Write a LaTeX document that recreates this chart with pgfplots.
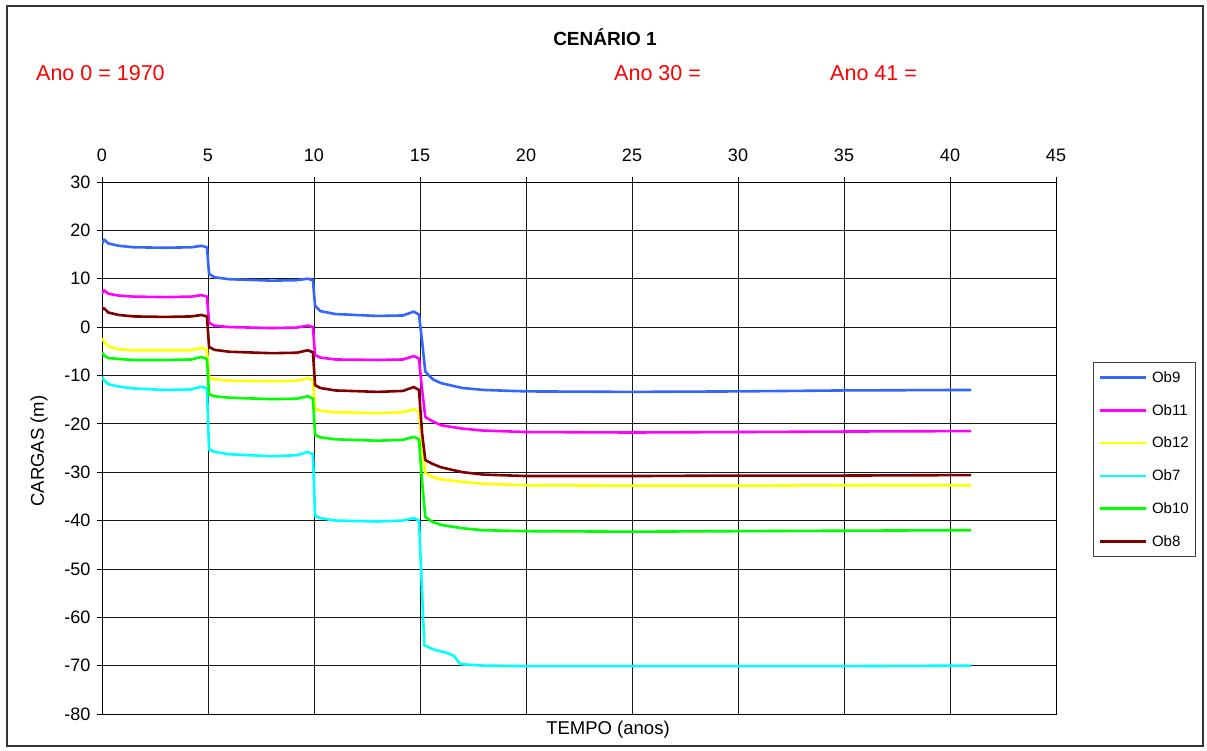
\documentclass[border=0pt]{standalone}
\usepackage{pgfplots}
\pgfplotsset{compat=1.18}
\usepackage{fontspec}
\setmainfont{Liberation Sans}
\definecolor{cOb9}{HTML}{3366FF}
\definecolor{cOb11}{HTML}{FF00FF}
\definecolor{cOb12}{HTML}{FFFF00}
\definecolor{cOb7}{HTML}{00FFFF}
\definecolor{cOb10}{HTML}{00FF00}
\definecolor{cOb8}{HTML}{800000}
\begin{document}
\begin{tikzpicture}
\useasboundingbox (-102pt,-37pt) rectangle (1105pt,714pt);
\begin{axis}[
  scale only axis,
  width=954pt, height=532pt,
  xmin=0, xmax=45, ymin=-80, ymax=30,
  xtick={0,5,...,45}, ytick={-80,-70,...,30},
  xtick pos=upper, xticklabel pos=upper,
  ytick pos=left,
  tick align=outside, major tick length=5pt,
  grid=major,
  major grid style={black!90, line width=0.8pt},
  axis line style={black, line width=0.9pt},
  every tick/.style={black, line width=0.8pt},
  tick label style={font=\fontsize{18}{20}\selectfont},
  /pgf/number format/assume math mode=true,
  xticklabel style={yshift=12pt},
  yticklabel style={xshift=-3pt},
  legend style={at={(1.0388,0.6617)}, anchor=north west,
    font=\fontsize{15}{17}\selectfont, draw=black!75, line width=0.8pt,
    row sep=16.4pt, column sep=3pt, inner xsep=5pt, inner ysep=7pt},
  legend cell align=left,
  legend image code/.code={\draw[#1] (0pt,0pt) -- (46pt,0pt);},
  every axis plot/.append style={line width=2.6pt, line join=round},
]
\addplot[cOb9] coordinates {(0,17.2) (0.1,18.1) (0.3,17.3) (0.8,16.8) (1.5,16.5) (3,16.4) (4.2,16.5) (4.7,16.8) (4.95,16.5) (5.05,11.0) (5.3,10.3) (6,9.9) (8,9.6) (9.2,9.7) (9.7,10.0) (9.95,9.7) (10.05,4.4) (10.3,3.3) (11,2.7) (13,2.3) (14.2,2.4) (14.7,3.2) (14.95,2.6) (15.1,-3) (15.25,-9.2) (15.6,-10.8) (16,-11.6) (17,-12.6) (18,-13.0) (20,-13.3) (25,-13.4) (30,-13.3) (35,-13.1) (41,-13.0)};
\addlegendentry{Ob9}
\addplot[cOb11] coordinates {(0,7.0) (0.1,7.6) (0.3,6.9) (0.8,6.5) (1.5,6.3) (3,6.2) (4.2,6.3) (4.7,6.6) (4.95,6.3) (5.05,0.9) (5.3,0.3) (6,0.0) (8,-0.2) (9.2,-0.1) (9.7,0.3) (9.95,0.0) (10.05,-5.8) (10.3,-6.3) (11,-6.7) (13,-6.8) (14.2,-6.7) (14.7,-6.0) (14.95,-6.5) (15.1,-13) (15.25,-18.6) (15.6,-19.5) (16,-20.3) (17,-21.0) (18,-21.4) (20,-21.7) (25,-21.8) (30,-21.7) (35,-21.6) (41,-21.5)};
\addlegendentry{Ob11}
\addplot[cOb12] coordinates {(0,-2.3) (0.1,-3.0) (0.3,-4.0) (0.8,-4.6) (1.5,-4.8) (3,-4.8) (4.2,-4.8) (4.7,-4.3) (4.95,-4.6) (5.05,-10.4) (5.3,-10.8) (6,-11.1) (8,-11.2) (9.2,-11.1) (9.7,-10.6) (9.95,-11.0) (10.05,-16.8) (10.3,-17.3) (11,-17.6) (13,-17.8) (14.2,-17.6) (14.7,-17.0) (14.95,-17.5) (15.1,-25) (15.25,-30.2) (15.6,-31.0) (16,-31.5) (17,-32.0) (18,-32.4) (20,-32.7) (25,-32.8) (30,-32.8) (35,-32.7) (41,-32.7)};
\addlegendentry{Ob12}
\addplot[cOb7] coordinates {(0,-10.3) (0.1,-11.0) (0.3,-11.8) (0.8,-12.3) (1.5,-12.7) (3,-13.0) (4.2,-12.9) (4.7,-12.3) (4.95,-12.7) (5.05,-25.3) (5.3,-25.8) (6,-26.3) (8,-26.7) (9.2,-26.5) (9.7,-25.8) (9.95,-26.3) (10.05,-39.0) (10.3,-39.5) (11,-40.0) (13,-40.2) (14.2,-40.0) (14.7,-39.5) (14.95,-40.0) (15.1,-55) (15.2,-65.8) (15.6,-66.6) (16.3,-67.4) (16.6,-68.0) (16.9,-69.7) (18,-70.0) (20,-70.1) (25,-70.1) (30,-70.1) (35,-70.1) (41,-70.0)};
\addlegendentry{Ob7}
\addplot[cOb10] coordinates {(0,-5.2) (0.1,-5.9) (0.3,-6.4) (0.8,-6.6) (1.5,-6.8) (3,-6.8) (4.2,-6.7) (4.7,-6.2) (4.95,-6.6) (5.05,-13.9) (5.3,-14.3) (6,-14.6) (8,-14.9) (9.2,-14.8) (9.7,-14.3) (9.95,-14.8) (10.05,-22.3) (10.3,-22.8) (11,-23.2) (13,-23.5) (14.2,-23.3) (14.7,-22.7) (14.95,-23.2) (15.1,-32) (15.25,-39.3) (15.6,-40.3) (16,-40.9) (17,-41.6) (18,-42.0) (20,-42.2) (25,-42.3) (30,-42.2) (35,-42.1) (41,-42.0)};
\addlegendentry{Ob10}
\addplot[cOb8] coordinates {(0,3.6) (0.1,3.9) (0.3,3.0) (0.8,2.5) (1.5,2.2) (3,2.1) (4.2,2.2) (4.7,2.5) (4.95,2.2) (5.05,-4.1) (5.3,-4.7) (6,-5.1) (8,-5.4) (9.2,-5.3) (9.7,-4.8) (9.95,-5.2) (10.05,-12.0) (10.3,-12.6) (11,-13.1) (13,-13.4) (14.2,-13.2) (14.7,-12.4) (14.95,-13.0) (15.1,-22) (15.25,-27.5) (15.6,-28.3) (16,-29.0) (17,-30.0) (18,-30.5) (20,-30.8) (25,-30.8) (30,-30.7) (35,-30.7) (41,-30.6)};
\addlegendentry{Ob8}
\end{axis}
\draw[black!80, line width=1.2pt] (-95pt,-32pt) rectangle (1101pt,708pt);
\node[anchor=base, font=\fontsize{19}{21}\selectfont\bfseries, inner sep=0pt] at (503pt,668pt) {CENÁRIO 1};
\node[anchor=base west, font=\fontsize{21.5}{24}\selectfont, text=red, inner sep=0pt] at (-66pt,633pt) {Ano 0 = 1970};
\node[anchor=base west, font=\fontsize{21.5}{24}\selectfont, text=red, inner sep=0pt] at (512pt,633pt) {Ano 30 =};
\node[anchor=base west, font=\fontsize{21.5}{24}\selectfont, text=red, inner sep=0pt] at (728pt,633pt) {Ano 41 =};
\node[anchor=base, font=\fontsize{18.5}{20}\selectfont, inner sep=0pt] at (506pt,-21pt) {TEMPO (anos)};
\node[rotate=90, anchor=center, font=\fontsize{18.5}{20}\selectfont, inner sep=0pt] at (-63pt,263pt) {CARGAS (m)};
\end{tikzpicture}
\end{document}
